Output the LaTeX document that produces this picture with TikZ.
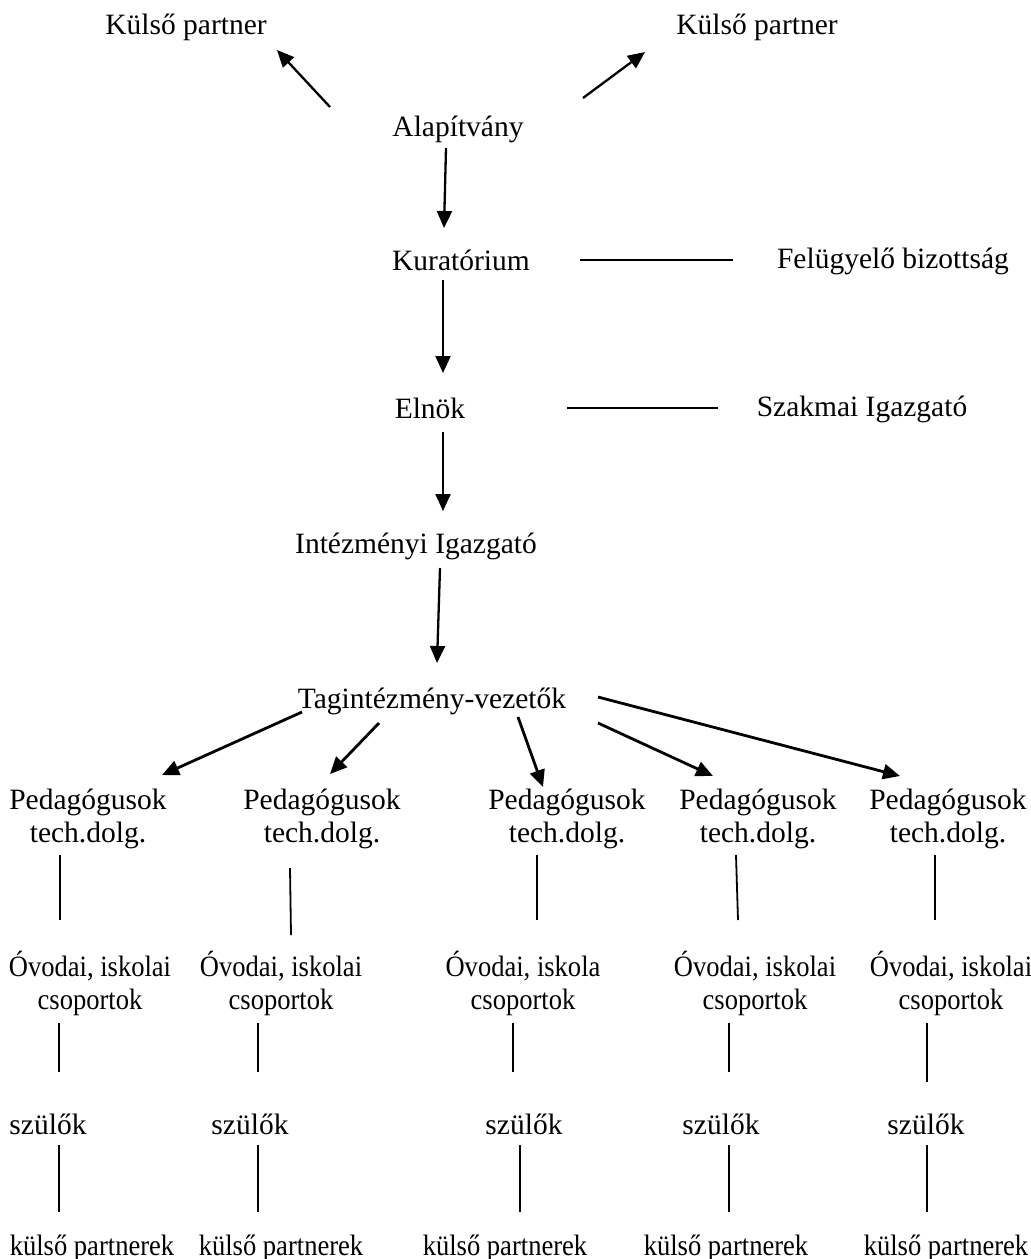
\documentclass[tikz,border=0pt]{standalone}
\usepackage{fontspec}
\setmainfont{Liberation Serif}
\newfontfamily\narrowserif{Liberation Serif}[FakeStretch=0.9]
\usetikzlibrary{arrows.meta}

\tikzset{
  lbl/.style={inner sep=0pt, align=center, font=\fontsize{29.5}{33}\selectfont},
  narrowlbl/.style={lbl, font=\narrowserif\fontsize{29.5}{33}\selectfont},
  arr/.style={-{Triangle[length=17pt,width=15pt]}, line width=2.3pt},
  link/.style={line width=1.8pt},
}

\begin{document}
\begin{tikzpicture}[x=1pt, y=-1pt]
  \useasboundingbox (0,0) rectangle (1031,1259);
  % upper part
  \node[lbl] (kpL) at (186,27) {Külső partner};
  \node[lbl] (kpR) at (757,27) {Külső partner};
  \node[lbl] (alap) at (458,129) {Alapítvány};
  \node[lbl] (kur) at (461,260) {Kuratórium};
  \node[lbl] (felu) at (893,261) {Felügyelő bizottság};
  \node[lbl] (elnok) at (430,408) {Elnök};
  \node[lbl] (szak) at (862,409) {Szakmai Igazgató};
  \node[lbl] (intez) at (416,546) {Intézményi Igazgató};
  \node[lbl] (tag) at (432,701) {Tagintézmény-vezetők};

  \draw[arr] ([shift={(-128,-22)}]alap.center) -- ([shift={(91,23)}]kpL.center);
  \draw[arr] ([shift={(125,-31)}]alap.center) -- ([shift={(-112,25)}]kpR.center);
  \draw[arr] ([shift={(-12,19)}]alap.center) -- ([shift={(-17,-32)}]kur.center);
  \draw[link] ([shift={(119,0)}]kur.center) -- ([shift={(-160,-1)}]felu.center);
  \draw[arr] ([shift={(-18,20)}]kur.center) -- ([shift={(13,-35)}]elnok.center);
  \draw[link] ([shift={(137,0)}]elnok.center) -- ([shift={(-144,-1)}]szak.center);
  \draw[arr] ([shift={(13,24)}]elnok.center) -- ([shift={(27,-35)}]intez.center);
  \draw[arr] ([shift={(24,22)}]intez.center) -- ([shift={(5,-38)}]tag.center);

  % columns
  \foreach \i/\x in {1/88, 2/322, 3/567, 4/758, 5/948}
    \node[lbl] (ped\i) at (\x,819) {Pedagógusok\\tech.dolg.};
  \foreach \i/\x/\w in {1/90/iskolai, 2/281/iskolai, 3/523/iskola, 4/755/iskolai, 5/951/iskolai}
    \node[narrowlbl] (ovo\i) at (\x,983) {Óvodai, \w\\csoportok};
  \foreach \i/\x in {1/48, 2/250, 3/524, 4/721, 5/926}
    \node[lbl] (szulo\i) at (\x,1124) {szülők};
  \foreach \i/\x in {1/92, 2/281, 3/505, 4/726, 5/946}
    \node[narrowlbl] (kulso\i) at (\x,1248) {külső partnerek};

  \foreach \i/\ax/\ay/\bx/\by in {1/-130/11/74/-44, 2/-53/22/8/-45, 3/86/16/-24/-32,
      4/166/22/-45/-43, 5/166/-4/-48/-43}
    \draw[arr, line width=2.8pt] ([shift={(\ax,\ay)}]tag.center) -- ([shift={(\bx,\by)}]ped\i.center);
  \foreach \i/\ax/\ay/\bx/\by in {1/-28/36/-30/-63, 2/-32/49/10/-48, 3/-30/36/14/-63,
      4/-22/36/-17/-63, 5/-13/36/-16/-63}
    \draw[link] ([shift={(\ax,\ay)}]ped\i.center) -- ([shift={(\bx,\by)}]ovo\i.center);
  \foreach \i/\ax/\ay/\bx/\by in {1/-31/40/11/-52, 2/-23/40/8/-52, 3/-10/40/-11/-52,
      4/-26/40/8/-52, 5/-24/40/1/-42}
    \draw[link] ([shift={(\ax,\ay)}]ovo\i.center) -- ([shift={(\bx,\by)}]szulo\i.center);
  \foreach \i/\ax/\ay/\bx/\by in {1/11/21/-33/-36, 2/8/21/-23/-36, 3/-4/21/15/-36,
      4/8/21/3/-36, 5/1/21/-19/-36}
    \draw[link] ([shift={(\ax,\ay)}]szulo\i.center) -- ([shift={(\bx,\by)}]kulso\i.center);
\end{tikzpicture}
\end{document}
